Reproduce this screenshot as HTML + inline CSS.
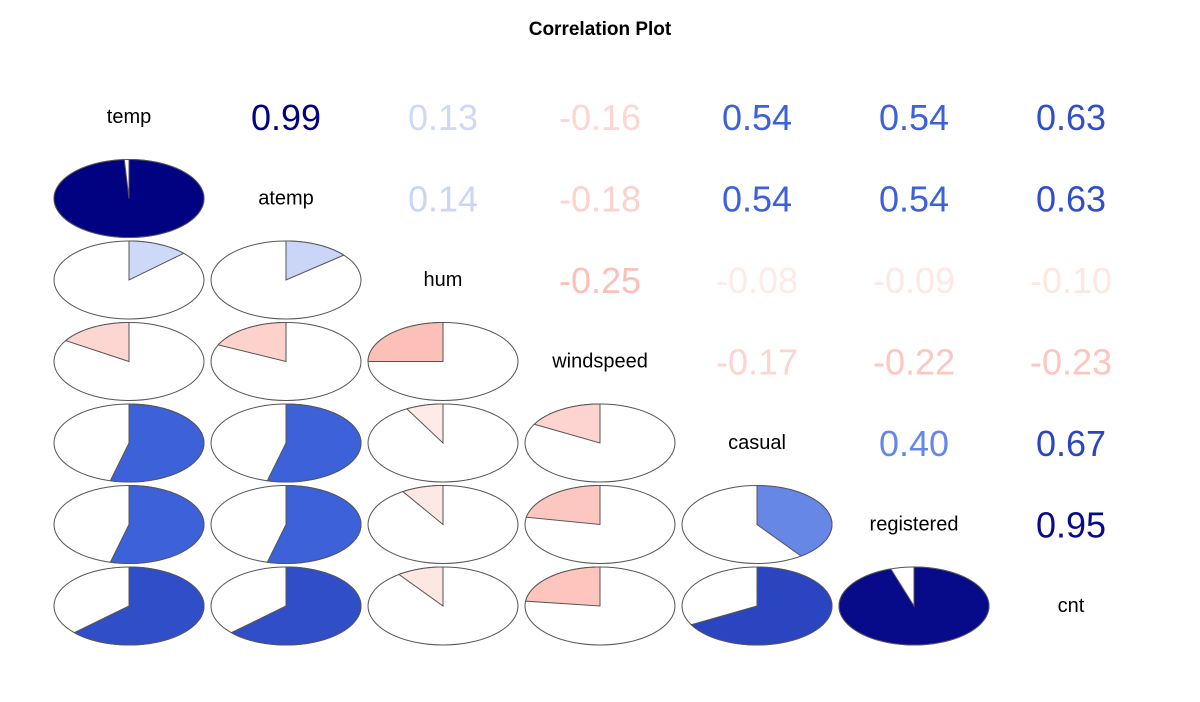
<!DOCTYPE html>
<html><head><meta charset="utf-8"><style>
body{margin:0;background:#fff}
svg text{font-family:"Liberation Sans",sans-serif}
</style></head><body>
<svg id="chart" width="1200" height="697" xmlns="http://www.w3.org/2000/svg">
<text x="600" y="35" text-anchor="middle" font-size="19" font-weight="bold">Correlation Plot</text>
</svg>
<script>
const variables = ["temp","atemp","hum","windspeed","casual","registered","cnt"];
const corrRows = [
 [1,0.99,0.13,-0.16,0.54,0.54,0.63],
 [0.99,1,0.14,-0.18,0.54,0.54,0.63],
 [0.13,0.14,1,-0.25,-0.08,-0.09,-0.10],
 [-0.16,-0.18,-0.25,1,-0.17,-0.22,-0.23],
 [0.54,0.54,-0.08,-0.17,1,0.40,0.67],
 [0.54,0.54,-0.09,-0.22,0.40,1,0.95],
 [0.63,0.63,-0.10,-0.23,0.67,0.95,1]
];
const svg = document.getElementById('chart');
const NS = "http://www.w3.org/2000/svg";
const x0 = 129, dx = 157, y0 = 117, dy = 81.5, rx = 75, ry = 39;
function colX(j){return x0 + j*dx;}
function rowY(i){return y0 + i*dy;}
const stops = [[-1,[255,0,0]],[-0.5,[250,128,114]],[0,[255,255,255]],[0.5,[65,105,225]],[1,[0,0,128]]];
function color(v){
  for(let k=0;k<stops.length-1;k++){
    const [a,ca]=stops[k],[b,cb]=stops[k+1];
    if(v>=a && v<=b){const t=(v-a)/(b-a);
      return 'rgb('+ca.map((c,i)=>Math.round(c+(cb[i]-c)*t)).join(',')+')';}
  }
  return '#fff';
}
function mk(tag, attrs){const e=document.createElementNS(NS,tag);for(const k in attrs)e.setAttribute(k,attrs[k]);svg.appendChild(e);return e;}
for(let i=0;i<variables.length;i++){
  for(let j=0;j<variables.length;j++){
    const cx=colX(j), cy=rowY(i), v=corrRows[i][j];
    if(i===j){
      const t=mk('text',{x:cx,y:cy+6,'text-anchor':'middle','font-size':20});
      
      
      t.textContent=variables[i];
    } else if(j>i){
      const t=mk('text',{x:cx,y:cy+13,'text-anchor':'middle','font-size':36,fill:color(v)});
      
      
      t.textContent=v.toFixed(2);
    } else {
      const g=document.createElementNS(NS,'g');svg.appendChild(g);
      
      
      const e=document.createElementNS(NS,'ellipse');
      e.setAttribute('cx',cx);e.setAttribute('cy',cy);e.setAttribute('rx',rx);e.setAttribute('ry',ry);
      e.setAttribute('fill','#fff');e.setAttribute('stroke','#555');e.setAttribute('stroke-width','1');
      g.appendChild(e);
      const ang=v*2*Math.PI;
      const n=Math.max(2,Math.ceil(Math.abs(ang)/0.05));
      let d='M'+cx+','+cy;
      for(let k=0;k<=n;k++){const a=ang*k/n;d+=' L'+(cx+rx*Math.sin(a)).toFixed(2)+','+(cy-ry*Math.cos(a)).toFixed(2);}
      d+=' Z';
      const p=document.createElementNS(NS,'path');
      p.setAttribute('d',d);p.setAttribute('fill',color(v));p.setAttribute('stroke','#555');p.setAttribute('stroke-width','1');
      g.appendChild(p);
    }
  }
}
</script>
</body></html>
